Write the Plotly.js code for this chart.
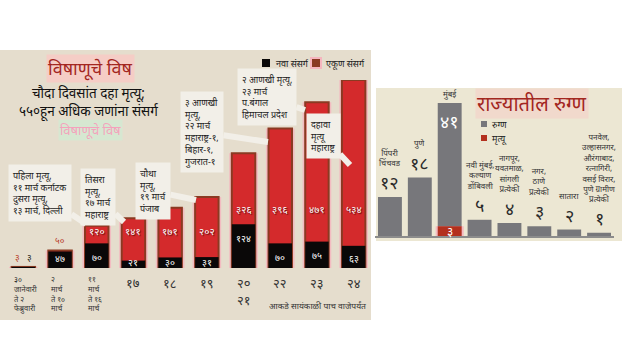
<!DOCTYPE html>
<html><head><meta charset="utf-8">
<script src="https://cdn.plot.ly/plotly-3.0.1.min.js"></script>
<style>html,body{margin:0;padding:0;background:#fff}#c{width:640px;height:360px}</style>
</head><body><div id="c"></div>
<script>
// ---- Left chart data (India) ----
const periods = ["३० जानेवारी ते २ फेब्रुवारी","२ मार्च ते १० मार्च","११ मार्च ते १६ मार्च","१७","१८","१९","२०-२१","२२","२३","२४"];
const periodLabels = ["३०<br>जानेवारी<br>ते २<br>फेब्रुवारी","२<br>मार्च<br>ते १०<br>मार्च","११<br>मार्च<br>ते १६<br>मार्च","१७","१८","१९","२०<br>२१","२२","२३","२४"];
const newCases = [3,47,70,21,30,31,124,70,75,63];
const totalCases = [3,50,120,141,171,202,326,396,471,534];
const leftLegend = ["नवा संसर्ग","एकूण संसर्ग"];
// ---- Right chart data (Maharashtra) ----
const districts = ["पिंपरी<br>चिंचवड","पुणे","मुंबई","नवी मुंबई,<br>कल्याण<br>डोंबिवली","नागपूर,<br>यवतमाळ,<br>सांगली<br>प्रत्येकी","नगर,<br>ठाणे<br>प्रत्येकी","सातारा","पनवेल,<br>उल्हासनगर,<br>औरंगाबाद,<br>रत्नागिरी,<br>वसई विरार,<br>पुणे ग्रामीण<br>प्रत्येकी"];
const patients = [12,18,41,5,4,3,2,1];
const deaths = [0,0,3,0,0,0,0,0];
const rightLegend = ["रुग्ण","मृत्यू"];

const W=640,H=360;
const px=x=>x/W, py=y=>1-y/H;
const FONT="Noto Sans, 'Noto Sans Devanagari', 'Lohit Devanagari', sans-serif";
const dev = n => String(n).replace(/[0-9]/g,d=>"०१२३४५६७८९"[+d]);

const C_RED='#d42a2c', C_BORDER='#8a3a22', C_BLACK='#0a0808', C_GREY='#77777b', C_DEATH='#b3301e';
const L_BASE=268, L_TOP=80, R_BASE=236, R_TOP=103;
const lMax=Math.max(...totalCases), rMax=Math.max(...patients);
const lUnitPx=(L_BASE-L_TOP)/lMax;
const yFromPx=p=>(L_BASE-p)/lUnitPx;

const traces=[
 {type:'bar',x:periods,y:totalCases,xaxis:'x',yaxis:'y',width:0.78,marker:{color:'rgba(246,176,188,0.75)'},showlegend:false,hoverinfo:'skip'},
 {type:'bar',x:periods,y:totalCases,xaxis:'x',yaxis:'y',name:leftLegend[1],width:0.64,marker:{color:C_RED,line:{color:C_BORDER,width:2}},showlegend:false},
 {type:'bar',x:periods,y:newCases,xaxis:'x',yaxis:'y',name:leftLegend[0],width:0.64,marker:{color:C_BLACK},showlegend:false},
 {type:'bar',x:districts,y:patients,xaxis:'x2',yaxis:'y2',name:rightLegend[0],width:0.8,marker:{color:C_GREY},showlegend:false},
 {type:'bar',x:districts,y:deaths,xaxis:'x2',yaxis:'y2',name:rightLegend[1],width:0.94,marker:{color:'rgba(246,176,188,0.8)'},showlegend:false,hoverinfo:'skip'},
 {type:'bar',x:districts,y:deaths,xaxis:'x2',yaxis:'y2',name:rightLegend[1],width:0.8,marker:{color:C_DEATH},showlegend:false}
];

const ann=[];
const P=(x,y,text,font,extra)=>Object.assign({xref:'paper',yref:'paper',x:px(x),y:py(y),xanchor:'center',yanchor:'middle',text,showarrow:false,font:Object.assign({family:FONT,color:'#222'},font)},extra||{});
// titles
ann.push(P(90,68,'विषाणूचे विष',{size:18,color:'#a3261f'},{bgcolor:'#f5cdc6',borderpad:1}));
ann.push(P(89,103,'चौदा दिवसांत दहा मृत्यू;<br>५५०हून अधिक जणांना संसर्ग',{size:13.5,color:'#111'}));
ann.push(P(90,130,'विषाणूचे विष',{size:13,color:'rgba(250,150,185,0.85)'},{bgcolor:'rgba(195,245,215,0.45)'}));
ann.push(P(532,103,'राज्यातील रुग्ण',{size:20,color:'#a3261f'},{bgcolor:'rgba(245,205,198,0.55)'}));
ann.push(P(368,305,'आकडे सायंकाळी पाच वाजेपर्यंत',{size:8.5,color:'#333'},{xanchor:'right'}));
// manual legends
const shapes=[
  {type:'rect',xref:'paper',yref:'paper',x0:0,x1:px(371),y0:py(320),y1:py(50),fillcolor:'#e5ddcd',line:{width:0},layer:'below'},
  {type:'rect',xref:'paper',yref:'paper',x0:px(376),x1:px(622),y0:py(241),y1:py(88),fillcolor:'#ece7d3',line:{width:0},layer:'below'}
];
const sq=(x,y,s,c,glow)=>{ if(glow) shapes.push({type:'rect',xref:'paper',yref:'paper',x0:px(x-2),x1:px(x+s+2),y0:py(y+s+2),y1:py(y-2),fillcolor:glow,line:{width:0}});
  shapes.push({type:'rect',xref:'paper',yref:'paper',x0:px(x),x1:px(x+s),y0:py(y+s),y1:py(y),fillcolor:c,line:{width:0}}); };
sq(262,59,8,C_BLACK); ann.push(P(274,63,leftLegend[0],{size:9},{xanchor:'left'}));
sq(312,59,8,C_BORDER,'rgba(246,176,188,0.9)'); ann.push(P(324,63,leftLegend[1],{size:9},{xanchor:'left'}));
sq(481,121,6,C_GREY); ann.push(P(490,124,rightLegend[0],{size:9},{xanchor:'left'}));
sq(481,135,6,C_DEATH); ann.push(P(490,138,rightLegend[1],{size:9},{xanchor:'left'}));

// left category labels
periodLabels.forEach((t,i)=>{
  const small=i<3;
  ann.push({xref:'x',yref:'y',x:i,y:0,yanchor:'top',yshift:-4,xanchor:small?'left':'center',xshift:small?-11:0,align:small?'left':'center',text:t,showarrow:false,font:{size:small?7.5:13,color:'#333',family:FONT}});
});
// left value labels
totalCases.forEach((v,i)=>{
  const hpx=v*lUnitPx;
  if(hpx<40){
    ann.push({xref:'x',yref:'y',x:i,y:v,xanchor:'center',yanchor:'bottom',yshift:1,xshift:i===0?-6:0,text:dev(v),showarrow:false,font:{size:9,color:'#b8402c',family:FONT}});
  } else {
    const ypx = v>300?209:231;
    ann.push({xref:'x',yref:'y',x:i,y:yFromPx(ypx),xanchor:'center',yanchor:'middle',text:dev(v),showarrow:false,font:{size:10,color:'#fff',family:FONT,shadow:'1px 1px 1px #5a0a0a'}});
  }
});
newCases.forEach((v,i)=>{
  const hpx=v*lUnitPx;
  if(i===0){
    ann.push({xref:'x',yref:'y',x:i,y:v,xanchor:'center',yanchor:'bottom',yshift:1,xshift:6,text:dev(v),showarrow:false,font:{size:9,color:'#222',family:FONT}});
    return;
  }
  const top=L_BASE-hpx;
  const cpx = hpx<15 ? 262 : Math.min(top+14,258);
  ann.push({xref:'x',yref:'y',x:i,y:yFromPx(cpx),xanchor:'center',yanchor:'middle',text:dev(v),showarrow:false,font:{size:9.5,color:'#fff',family:FONT}});
});
// right labels
patients.forEach((v,i)=>{
  if(v===rMax){
    ann.push({xref:'x2',yref:'y2',x:i,y:v,xanchor:'center',yanchor:'top',yshift:-4,text:dev(v),showarrow:false,font:{size:18,color:'#fff',family:FONT}});
    ann.push({xref:'x2',yref:'y2',x:i,y:v,xanchor:'center',yanchor:'bottom',yshift:1,text:districts[i],showarrow:false,font:{size:8,color:'#333',family:FONT}});
  } else {
    ann.push({xref:'x2',yref:'y2',x:i,y:v,xanchor:'center',yanchor:'bottom',yshift:1,text:dev(v),showarrow:false,font:{size:18,color:'#2a2a2a',family:FONT}});
    ann.push({xref:'x2',yref:'y2',x:i,y:v,xanchor:'center',yanchor:'bottom',yshift:27,text:districts[i],showarrow:false,font:{size:8,color:'#333',family:FONT}});
  }
});
deaths.forEach((v,i)=>{ if(v>0) ann.push({xref:'x2',yref:'y2',x:i,y:v/2,xanchor:'center',yanchor:'middle',text:dev(v),showarrow:false,font:{size:12,color:'#fff',family:FONT}}); });

// callouts
const callouts=[
 {t:'पहिला मृत्यू,<br>११ मार्च कर्नाटक<br>दुसरा मृत्यू,<br>१३ मार्च, दिल्ली',c:[40,193],p:[86,224]},
 {t:'तिसरा<br>मृत्यू,<br>१७ मार्च<br>महाराष्ट्र',c:[98,197],p:[124,222]},
 {t:'चौथा<br>मृत्यू,<br>१९ मार्च<br>पंजाब',c:[153,191],p:[196,200]},
 {t:'३ आणखी<br>मृत्यू,<br>२२ मार्च<br>महाराष्ट्र-१,<br>बिहार-१,<br>गुजरात-१',c:[202,132],p:[268,142]},
 {t:'२ आणखी मृत्यू,<br>२३ मार्च<br>प.बंगाल<br>हिमाचल प्रदेश',c:[267,97],p:[305,110]},
 {t:'दहावा<br>मृत्यू<br>महाराष्ट्र',c:[323,136],p:[350,165]}
];
callouts.forEach(o=>{
  ann.push({xref:'paper',yref:'paper',axref:'paper',ayref:'paper',x:px(o.p[0]),y:py(o.p[1]),ax:px(o.c[0]),ay:py(o.c[1]),text:o.t,align:'left',showarrow:true,arrowhead:0,arrowwidth:6,arrowcolor:'#f2efe8',standoff:0,bgcolor:'#f2efe8',borderpad:4,font:{size:9,color:'#222',family:FONT}});
});

const layout={
 width:640,height:360,margin:{l:0,r:0,t:0,b:0},
 paper_bgcolor:'#fff',plot_bgcolor:'rgba(0,0,0,0)',barmode:'overlay',showlegend:false,
 font:{family:FONT},
 xaxis:{domain:[px(5),px(372)],type:'category',range:[-0.5,9.5],showticklabels:false,showgrid:false,zeroline:false,fixedrange:true},
 yaxis:{domain:[py(L_BASE),py(L_TOP)],range:[0,lMax],visible:false,fixedrange:true},
 xaxis2:{domain:[px(375),px(614)],type:'category',range:[-0.5,7.5],showticklabels:false,showgrid:false,zeroline:false,showline:true,linecolor:'#8c8c8c',linewidth:2,anchor:'y2'},
 yaxis2:{domain:[py(R_BASE),py(R_TOP)],range:[0,rMax],visible:false,anchor:'x2'},
 shapes:shapes,
 annotations:ann
};
Plotly.newPlot('c',traces,layout,{staticPlot:true});
</script></body></html>
